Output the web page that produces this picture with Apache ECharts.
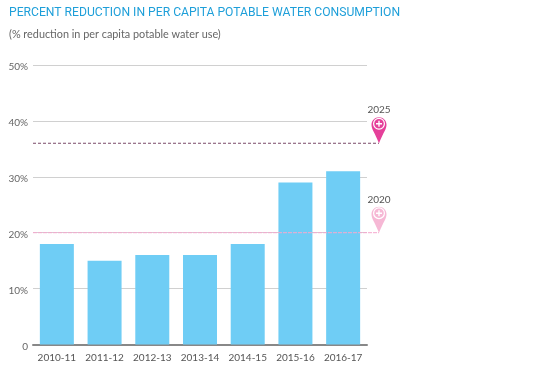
<!DOCTYPE html>
<html><head><meta charset="utf-8">
<style>html,body{margin:0;padding:0;background:#fff}#c{width:550px;height:370px}</style>
<script src="https://cdn.jsdelivr.net/npm/echarts@6/dist/echarts.min.js"></script>
</head><body><div id="c"></div>
<script>
const categories = ['2010-11','2011-12','2012-13','2013-14','2014-15','2015-16','2016-17'];
const reduction = [18,15,16,16,18,29,31];
const targetYears = ['2025','2020'];
const targetValues = [36,20];
const targetColors = ['#E5409A','#F6B8D5'];
const lineColors = ['#7a4a68','#F5A8CE'];
const lineDashes = [[3,2],[4,1]];
const FONT = 'Lato, "Open Sans", sans-serif';
const PIN = 'path://M7.5 0C3.36 0 0 3.36 0 7.5C0 12 2.6 14 7.5 26C12.4 14 15 12 15 7.5C15 3.36 11.64 0 7.5 0Z';
const ICON = 'path://M6 0A6 6 0 1 0 6 12A6 6 0 1 0 6 0ZM6 1.2A4.8 4.8 0 1 1 6 10.8A4.8 4.8 0 1 1 6 1.2ZM5.3 3V5.3H3V6.7H5.3V9H6.7V6.7H9V5.3H6.7V3Z';
const chart = echarts.init(document.getElementById('c'), null, {renderer:'canvas'});
const targetSeries = [];
targetValues.forEach((v,i)=>{
  targetSeries.push({type:'line',xAxisIndex:1,yAxisIndex:1,silent:true,symbol:'none',z:3,
    data:[[0,v],[1,v]],lineStyle:{color:lineColors[i],width:1,type:lineDashes[i]}});
  targetSeries.push({type:'scatter',xAxisIndex:1,yAxisIndex:1,silent:true,z:4,
    data:[[1,v]],symbol:PIN,symbolSize:[15,26],symbolOffset:[0,-13],
    itemStyle:{color:targetColors[i],opacity:1},
    label:{show:true,position:'top',distance:2,formatter:targetYears[i],
      color:'#555',fontSize:10,fontFamily:FONT}});
  targetSeries.push({type:'scatter',xAxisIndex:1,yAxisIndex:1,silent:true,z:5,
    data:[[1,v]],symbol:ICON,symbolSize:12,symbolOffset:[0,-19.5],
    itemStyle:{color:'#fff',opacity:1}});
});
chart.setOption({
  animation:false,
  backgroundColor:'#fff',
  title:[
    {text:'PERCENT REDUCTION IN PER CAPITA POTABLE WATER CONSUMPTION',left:9,top:7,padding:0,
     textStyle:{color:'#1E9FD9',fontSize:12.15,fontWeight:'normal',fontFamily:'Roboto, sans-serif'}},
    {text:'(% reduction in per capita potable water use)',left:9,top:29,padding:0,
     textStyle:{color:'#666',fontSize:10.85,fontWeight:'normal',fontFamily:FONT}}
  ],
  grid:[{left:33,width:334,top:65,bottom:25.5},{left:33,width:346,top:65,bottom:25.5}],
  xAxis:[
    {type:'category',gridIndex:0,data:categories,
     axisTick:{show:false},axisLine:{lineStyle:{color:'#888',width:2}},
     axisLabel:{color:'#555',fontSize:10,fontFamily:FONT,margin:8,interval:0}},
    {type:'value',gridIndex:1,min:0,max:1,show:false}
  ],
  yAxis:[
    {type:'value',gridIndex:0,min:0,max:50,interval:10,
     axisLine:{show:false},axisTick:{show:false},
     splitLine:{lineStyle:{color:'#d0d0d0',width:1}},
     axisLabel:{color:'#666',fontSize:10,fontFamily:FONT,margin:5,
       formatter:v=>'{a|'+(v===0?'0':v+'%')+'}',
       rich:{a:{color:'#666',fontSize:10,fontFamily:FONT,padding:[4,0,0,0]}}}},
    {type:'value',gridIndex:1,min:0,max:50,show:false}
  ],
  series:[
    {type:'bar',xAxisIndex:0,yAxisIndex:0,data:reduction,barWidth:34,silent:true,z:2,
     itemStyle:{color:'#6FCDF5'}},
    ...targetSeries
  ]
});
</script></body></html>
